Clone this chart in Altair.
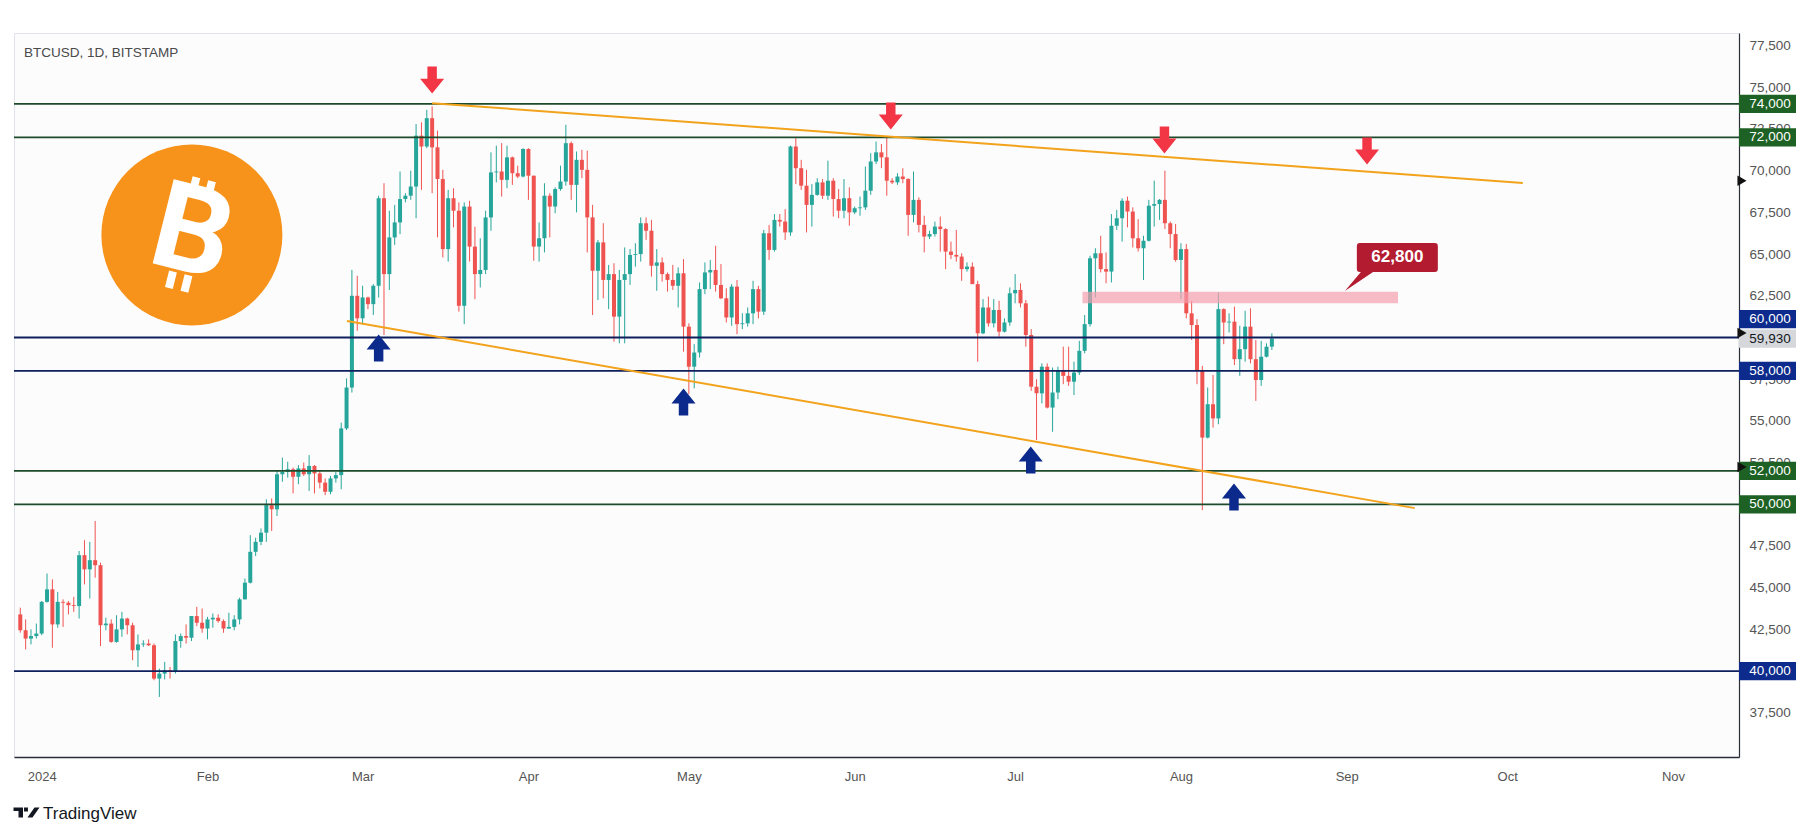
import altair as alt
import pandas as pd

W, H = 1725, 724
FONT = "Liberation Sans"
GREEN_C, RED_C = "#26a69a", "#ef5350"

start_date = "2023-12-28"
opens = [43400, 42450, 41950, 42100,
         42250, 44150, 44900, 42800, 44150, 44100, 43950, 43900, 46950, 46100, 46650, 46350, 42750, 42850, 41750, 42500, 43150, 42750, 41250, 41600, 41650, 41550, 39550, 39850, 40050, 39950, 41800, 42100, 42000, 43300, 42900,
         42550, 43100, 43200, 43000, 42550, 42650, 43100, 44300, 45300, 47150, 47750, 48300, 49950, 49700, 51800, 51950, 52100, 51650, 52150, 51800, 52300, 51850, 51300, 50750, 51550, 51750, 54550, 57000, 62500,
         61150, 62400, 62000, 63100, 68350, 63800, 66000, 66900, 68300, 68500, 69050, 72100, 71450, 73150, 71400, 69500, 65300, 68350, 67600, 61900, 67850, 65450, 63800, 64050, 67200, 69900, 69950, 69450, 70800, 69850, 69650,
         71300, 69700, 65450, 65950, 68500, 67850, 68900, 69350, 71650, 69150, 70650, 70050, 67200, 64000, 65700, 63450, 63800, 61250, 63450, 63800, 64950, 65000, 66850, 66400, 64300, 64500, 63800, 63450, 63100, 63850,
         60650, 58250, 59100, 62900, 63900, 64050, 63150, 62350, 61200, 63050, 60800, 60850, 61450, 62900, 61550, 66250, 65250, 67050, 66950, 66300, 71450, 70150, 69100, 67950, 68550, 69300, 68500, 69400, 68300, 67600, 68350,
         67500, 67750, 67800, 68800, 70550, 71100, 70800, 69400, 69300, 69650, 69500, 67350, 68250, 66750, 66050, 66200, 66650, 66500, 65150, 64950, 64850, 64100, 64250, 63200, 60250, 61800, 60850, 61650, 60350, 60900,
         62650, 62850, 62050, 60150, 57050, 56650, 58250, 55800, 56700, 58000, 57700, 57350, 57900, 59200, 60800, 64750, 65050, 64100, 63950, 66700, 67150, 68200, 67550, 65950, 65350, 65800, 67900, 68000, 68250, 66850, 66200,
         64650, 65300, 61450, 60750, 58050, 54000, 56000, 55150, 61700, 60900, 60950, 58700, 59300, 60650, 58700, 57450, 58850, 59450]
highs = [43800, 43100, 42500, 42850,
         44200, 45850, 45500, 44750, 44300, 44200, 44450, 47200, 47850, 47750, 49000, 46500, 43200, 43100, 43350, 43550, 43200, 42900, 42200, 41850, 41900, 41650, 40150, 40550, 40250, 42200, 42250, 42800, 43300, 43850, 43750,
         43250, 43450, 43400, 43100, 43500, 43350, 44400, 45550, 48150, 48000, 48550, 50300, 50350, 52000, 52800, 52550, 52200, 52350, 52500, 52950, 52350, 52050, 51550, 51700, 51950, 54900, 57550, 64050, 63700,
         63100, 62450, 63200, 68500, 69250, 67600, 67950, 69950, 68650, 70000, 72800, 72900, 73650, 73850, 72400, 70050, 68850, 68950, 68100, 68100, 68200, 66650, 65950, 67600, 71100, 71500, 71650, 71500, 70850, 70300, 71350,
         71350, 69700, 66900, 69250, 68650, 69000, 70300, 72750, 71750, 71150, 71250, 71200, 67950, 65850, 66850, 64350, 64450, 64050, 65400, 65300, 65650, 67200, 67200, 67050, 65300, 64800, 63900, 64350, 64200, 64700,
         60850, 59600, 63300, 64500, 64650, 65500, 64400, 62950, 63200, 63450, 61450, 61800, 63400, 63100, 66450, 66750, 67400, 67400, 67700, 71500, 71950, 70650, 70050, 69200, 69550, 69500, 70600, 69550, 68900, 69500, 69000,
         67850, 68450, 70250, 71050, 71750, 71600, 72000, 69550, 69850, 70150, 69550, 69950, 68400, 67300, 66400, 66950, 67250, 66550, 65750, 66450, 65050, 64500, 64500, 63400, 62300, 62450, 62300, 62200, 61150, 63000,
         63800, 63250, 62250, 60500, 57500, 58450, 58450, 58200, 58250, 59450, 59450, 58550, 59800, 61350, 64900, 65350, 66100, 65100, 67400, 67650, 68350, 68450, 67800, 67100, 66100, 68250, 69400, 68300, 70000, 66950, 66800,
         65650, 65600, 62200, 61100, 58300, 57000, 57750, 62700, 61750, 61450, 61850, 60700, 61600, 61750, 59850, 59800, 59650, 60250]
lows = [42300, 41300, 41600, 41950,
        42150, 44100, 41400, 42600, 42650, 43400, 43550, 43150, 45200, 44350, 45600, 41500, 42450, 41700, 41700, 42050, 42200, 40650, 40250, 41450, 41500, 39450, 38450, 39500, 39550, 39850, 41400, 41650, 41800, 42700, 42300,
        41900, 42600, 42900, 42300, 42550, 42450, 42800, 44300, 45250, 46900, 47550, 47750, 48400, 49300, 51350, 51600, 50650, 51200, 51700, 50800, 50650, 50950, 50550, 50600, 51300, 50900, 54450, 56700, 60400,
        60800, 61700, 61350, 62400, 60150, 62850, 65550, 66200, 68100, 68250, 67150, 68850, 71350, 68650, 66000, 64800, 64550, 66600, 61550, 60800, 64550, 62300, 63000, 63800, 66400, 69300, 68450, 68950, 69150, 69550, 69600,
        68250, 64600, 64550, 65100, 66000, 67450, 68800, 69100, 68250, 67500, 69550, 65100, 61350, 62250, 62350, 61700, 59750, 59650, 59650, 63150, 64250, 64550, 65850, 63650, 62800, 63350, 62750, 62850, 61800, 59150,
        56600, 56950, 58800, 62600, 62900, 62750, 62300, 60900, 60700, 60200, 60500, 60650, 60800, 61150, 61350, 64650, 65150, 66650, 65850, 66100, 69200, 68850, 66300, 66650, 68500, 68300, 68250, 67250, 67150, 67150, 66700,
        67400, 67300, 67650, 68550, 70400, 70150, 68500, 69200, 69150, 69250, 66100, 66900, 66300, 65100, 65900, 66050, 65150, 64100, 64700, 64550, 63400, 63950, 63200, 58550, 60200, 60650, 60600, 60050, 60300, 60700,
        62050, 61800, 59450, 56800, 53850, 56050, 55750, 54350, 56300, 57200, 57100, 56550, 57750, 59050, 60650, 62400, 63900, 63250, 63300, 66450, 65750, 66600, 65400, 65150, 63450, 65750, 66650, 67050, 66500, 65350, 64550,
        62300, 61150, 59850, 57200, 49650, 53950, 54600, 54800, 59600, 60300, 58350, 57700, 58550, 58450, 56200, 57100, 58800, 59250]
closes = [42450, 41950, 42100, 42250,
          44150, 44900, 42800, 44150, 44100, 43950, 43900, 46950, 46100, 46650, 46350, 42750, 42850, 41750, 42500, 43150, 42750, 41250, 41600, 41650, 41550, 39550, 39850, 40050, 39950, 41800, 42100, 42000, 43300, 42900, 42550,
          43100, 43200, 43000, 42550, 42650, 43100, 44300, 45300, 47150, 47750, 48300, 49950, 49700, 51800, 51950, 52100, 51650, 52150, 51800, 52300, 51850, 51300, 50750, 51550, 51750, 54550, 57000, 62500, 61150,
          62400, 62000, 63100, 68350, 63800, 66000, 66900, 68300, 68500, 69050, 72100, 71450, 73150, 71400, 69500, 65300, 68350, 67600, 61900, 67850, 65450, 63800, 64050, 67200, 69900, 69950, 69450, 70800, 69850, 69650, 71300,
          69700, 65450, 65950, 68500, 67850, 68900, 69350, 71650, 69150, 70650, 70050, 67200, 64000, 65700, 63450, 63800, 61250, 63450, 63800, 64950, 65000, 66850, 66400, 64300, 64500, 63800, 63450, 63100, 63850, 60650,
          58250, 59100, 62900, 63900, 64050, 63150, 62350, 61200, 63050, 60800, 60850, 61450, 62900, 61550, 66250, 65250, 67050, 66950, 66300, 71450, 70150, 69100, 67950, 68550, 69300, 68500, 69400, 68300, 67600, 68350, 67500,
          67750, 67800, 68800, 70550, 71100, 70800, 69400, 69300, 69650, 69500, 67350, 68250, 66750, 66050, 66200, 66650, 66500, 65150, 64950, 64850, 64100, 64250, 63200, 60250, 61800, 60850, 61650, 60350, 60900, 62650,
          62850, 62050, 60150, 57050, 56650, 58250, 55800, 56700, 58000, 57700, 57350, 57900, 59200, 60800, 64750, 65050, 64100, 63950, 66700, 67150, 68200, 67550, 65950, 65350, 65800, 67900, 68000, 68250, 66850, 66200, 64650,
          65300, 61450, 60750, 58050, 54000, 56000, 55150, 61700, 60900, 60950, 58700, 59300, 60650, 58700, 57450, 58850, 59450, 59930]

# horizontal levels
level_prices = [74000, 72000, 60000, 58000, 52000, 50000, 40000]
level_label_pos = [74000, 72000, 61100, 58000, 52000, 50000, 40000]
level_texts = ["74,000", "72,000", "60,000", "58,000", "52,000", "50,000", "40,000"]
level_kind = ["g", "g", "b", "b", "g", "g", "b"]

# trendlines
trend_x = ["2024-03-14T00:00:00Z", "2024-02-27T02:00:00Z"]
trend_x2 = ["2024-10-03T22:00:00Z", "2024-09-13T17:00:00Z"]
trend_y = [74050, 60990]
trend_y2 = [69260, 49770]

# arrows
red_dates = ["2024-03-14T00:00:00Z", "2024-06-07T18:00:00Z", "2024-07-28T22:00:00Z", "2024-09-04T19:00:00Z"]
red_prices = [75430, 73280, 71840, 71180]
blue_dates = ["2024-03-04T00:00:00Z", "2024-04-30T00:00:00Z", "2024-07-03T22:00:00Z", "2024-08-10T22:00:00Z"]
blue_prices = [59370, 56130, 52660, 50440]

# resistance zone + callout
zone_x, zone_x2 = "2024-07-13T14:00:00Z", "2024-09-10T14:00:00Z"
zone_y, zone_y2 = 62050, 62750
callout_date, callout_price, callout_text = "2024-09-10T11:00:00Z", 64800, "62,800"

# current price
last_price_text = "59,930"
marker_prices = [69400, 60270, 52240]

logo_date, logo_price = "2024-01-29T02:00:00Z", 66150

dates = pd.date_range(start_date, periods=len(closes), freq="D")
candles = pd.DataFrame({
    "date": dates.strftime("%Y-%m-%dT00:00:00Z"),
    "open": opens, "high": highs, "low": lows, "close": closes,
})
candles["dir"] = ["up" if c >= o else "down" for o, c in zip(opens, closes)]

xscale = alt.Scale(type="utc", domain=[
    alt.DateTime(year=2023, month=12, date=27, hours=18, minutes=14, utc=True),
    alt.DateTime(year=2024, month=11, date=12, hours=9, minutes=36, utc=True)])
yscale = alt.Scale(domain=[34850, 78255], nice=False, zero=False)

xaxis = alt.Axis(
    values=[alt.DateTime(year=2024, month=m, date=1, utc=True) for m in range(1, 12)],
    labelExpr="utcmonth(datum.value) == 0 ? utcFormat(datum.value, '%Y') : utcFormat(datum.value, '%b')",
    ticks=False, grid=False, domainColor="#2a2e39", domainWidth=1.5,
    labelFont=FONT, labelFontSize=13, labelColor="#555555", labelPadding=13,
    labelFlush=False, labelOverlap=False, title=None)
yaxis = alt.Axis(
    orient="right", values=list(range(37500, 77501, 2500)), format=",d",
    ticks=False, grid=False, domainColor="#2a2e39", domainWidth=1.2,
    labelFont=FONT, labelFontSize=13.5, labelColor="#555555", labelPadding=10,
    labelOverlap=False, title=None)


def X(f):
    return alt.X(f, type="temporal", scale=xscale, axis=xaxis, title=None)


def Y(f):
    return alt.Y(f, type="quantitative", scale=yscale, axis=yaxis, title=None)


base = alt.Chart(candles)
dir_color = alt.Color("dir:N", scale=alt.Scale(domain=["up", "down"], range=[GREEN_C, RED_C]), legend=None)

# logo
logo_df = pd.DataFrame({"date": [logo_date], "price": [logo_price], "t": ["B"]})
logo_circle = alt.Chart(logo_df).mark_point(shape="circle", filled=True, size=181 * 181, color="#f7931a", opacity=1).encode(
    x=X("date"), y=Y("price"))
logo_b = alt.Chart(logo_df).mark_text(font="Roboto", fontWeight="bold", fontSize=122, color="white", angle=14,
                                      align="center", baseline="middle").encode(x=X("date"), y=Y("price"), text="t:N")
BARS = ("M-0.225,-0.95 L-0.092,-0.95 L-0.092,-0.667 L-0.225,-0.667 Z "
        "M0.042,-0.95 L0.175,-0.95 L0.175,-0.667 L0.042,-0.667 Z "
        "M-0.225,0.667 L-0.092,0.667 L-0.092,0.95 L-0.225,0.95 Z "
        "M0.042,0.667 L0.175,0.667 L0.175,0.95 L0.042,0.95 Z")
logo_bars = alt.Chart(logo_df).mark_point(shape=BARS, filled=True, size=14400, color="white", opacity=1, angle=14).encode(
    x=X("date"), y=Y("price"))

wicks = base.mark_rule(strokeWidth=1).encode(x=X("date"), y=Y("low"), y2="high", color=dir_color)
bodies = base.mark_bar(size=4).encode(x=X("date"), y=Y("open"), y2="close", color=dir_color)

lv = pd.DataFrame({"price": level_prices, "pos": level_label_pos, "txt": level_texts, "kind": level_kind})
lv["line_col"] = ["#1d4a2a" if k == "g" else "#0f1f5c" for k in level_kind]
lv["box_col"] = ["#1e6124" if k == "g" else "#0d2b8c" for k in level_kind]
level_lines = alt.Chart(lv).mark_rule(strokeWidth=1.8).encode(
    y=Y("price"), color=alt.Color("line_col:N", scale=None))

tr = pd.DataFrame({"x": trend_x, "x2": trend_x2, "y": trend_y, "y2": trend_y2})
trends = alt.Chart(tr).mark_rule(strokeWidth=2, color="#f2a31b").encode(x=X("x"), x2="x2", y=Y("y"), y2="y2")

zone = alt.Chart(pd.DataFrame({"x": [zone_x], "x2": [zone_x2], "y": [zone_y], "y2": [zone_y2]})).mark_rect(
    color="#f5a0ae", opacity=0.7).encode(x=X("x"), x2="x2", y=Y("y"), y2="y2")

DOWN = "M-0.35,-1 L0.35,-1 L0.35,-0.11 L0.89,-0.11 L0,1 L-0.89,-0.11 L-0.35,-0.11 Z"
UP = "M-0.35,1 L0.35,1 L0.35,0.11 L0.89,0.11 L0,-1 L-0.89,0.11 L-0.35,0.11 Z"
red_arrows = alt.Chart(pd.DataFrame({"date": red_dates, "price": red_prices})).mark_point(
    shape=DOWN, filled=True, size=729, color="#f23645", opacity=1).encode(x=X("date"), y=Y("price"))
blue_arrows = alt.Chart(pd.DataFrame({"date": blue_dates, "price": blue_prices})).mark_point(
    shape=UP, filled=True, size=729, color="#0c2a8c", opacity=1).encode(x=X("date"), y=Y("price"))

CALLOUT = ("M-0.926,-0.358 L0.926,-0.358 Q1,-0.358 1,-0.284 L1,0.284 Q1,0.358 0.926,0.358 "
           "L-0.6,0.358 L-1.296,0.827 L-0.9,0.358 L-0.926,0.358 Q-1,0.358 -1,0.284 "
           "L-1,-0.284 Q-1,-0.358 -0.926,-0.358 Z")
co_df = pd.DataFrame({"date": [callout_date], "price": [callout_price], "t": [callout_text]})
callout_box = alt.Chart(co_df).mark_point(shape=CALLOUT, filled=True, size=81 * 81, color="#b31c30", opacity=1).encode(
    x=X("date"), y=Y("price"))
callout_txt = alt.Chart(co_df).mark_text(font=FONT, fontWeight="bold", fontSize=17, color="white",
                                         align="center", baseline="middle").encode(x=X("date"), y=Y("price"), text="t:N")

BOX = "M-1,-0.32 L1,-0.32 L1,0.32 L-1,0.32 Z"
level_boxes = alt.Chart(lv).mark_point(shape=BOX, filled=True, size=57 * 57, opacity=1).encode(
    x=alt.value(W + 28.5), y=Y("pos"), color=alt.Color("box_col:N", scale=None))
level_box_txt = alt.Chart(lv).mark_text(font=FONT, fontSize=13.5, color="white", align="center", baseline="middle").encode(
    x=alt.value(W + 31), y=Y("pos"), text="txt:N")
last_df = pd.DataFrame({"price": [closes[-1]], "t": [last_price_text]})
last_box = alt.Chart(last_df).mark_point(shape=BOX, filled=True, size=57 * 57, color="#d6d7db", opacity=1).encode(
    x=alt.value(W + 28.5), y=Y("price"))
last_txt = alt.Chart(last_df).mark_text(font=FONT, fontSize=13.5, color="#131722", align="center", baseline="middle").encode(
    x=alt.value(W + 31), y=Y("price"), text="t:N")
markers = alt.Chart(pd.DataFrame({"price": marker_prices})).mark_point(
    shape="triangle-right", filled=True, size=110, color="#111111", opacity=1).encode(x=alt.value(W + 3), y=Y("price"))

title_df = pd.DataFrame({"t": ["BTCUSD, 1D, BITSTAMP"]})
title = alt.Chart(title_df).mark_text(font=FONT, fontSize=13.5, color="#4a4a4a", align="left", baseline="middle").encode(
    x=alt.value(10), y=alt.value(20), text="t:N")

TVLOGO = ("M-1,-0.385 L-0.27,-0.385 L-0.27,0.385 L-0.615,0.385 L-0.615,-0.115 L-1,-0.115 Z "
          "M-0.19,-0.38 L0.11,-0.38 L0.11,-0.08 L-0.19,-0.08 Z "
          "M0.615,-0.385 L1,-0.385 L0.46,0.385 L0.077,0.385 Z")
foot_df = pd.DataFrame({"t": ["TradingView"]})
foot_logo = alt.Chart(foot_df).mark_point(shape=TVLOGO, filled=True, size=26 * 26, color="#131722", opacity=1).encode(
    x=alt.value(12.5), y=alt.value(H + 55.5))
foot_txt = alt.Chart(foot_df).mark_text(font=FONT, fontSize=17, color="#131722", align="left", baseline="middle").encode(
    x=alt.value(29), y=alt.value(H + 57), text="t:N")

chart = alt.layer(
    logo_circle, logo_b, logo_bars,
    wicks, bodies,
    level_lines, trends, zone,
    red_arrows, blue_arrows, callout_box, callout_txt,
    level_boxes, level_box_txt, last_box, last_txt, markers,
    title, foot_logo, foot_txt,
).resolve_scale(color="independent").properties(
    width=W, height=H,
    padding={"left": 5, "top": 25, "right": 5, "bottom": 5},
    background="white",
).configure_view(stroke="#e0e3eb", fill="#fcfcfd")

chart.save("out.html", embed_options={"renderer": "svg", "actions": False})
